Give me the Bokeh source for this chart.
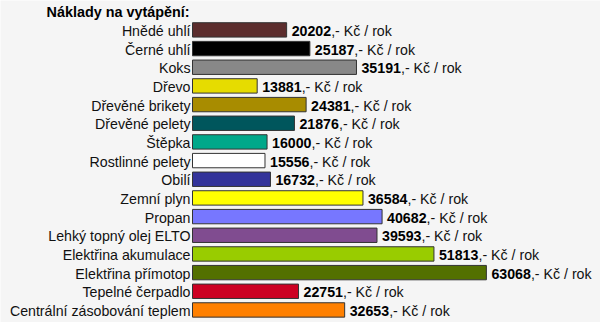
from bokeh.plotting import figure
from bokeh.models import Range1d, ColumnDataSource
from bokeh.core.properties import value
from bokeh.embed import file_html
from bokeh.resources import INLINE

categories = ["Hnědé uhlí", "Černé uhlí", "Koks", "Dřevo", "Dřevěné brikety",
              "Dřevěné pelety", "Štěpka", "Rostlinné pelety", "Obilí", "Zemní plyn",
              "Propan", "Lehký topný olej ELTO", "Elektřina akumulace",
              "Elektřina přímotop", "Tepelné čerpadlo", "Centrální zásobování teplem"]
costs = [20202, 25187, 35191, 13881, 24381, 21876, 16000, 15556, 16732, 36584,
         40682, 39593, 51813, 63068, 22751, 32653]
colors = ["#5c2d2d", "#000000", "#888888", "#e6dc00", "#a88c00", "#00565c",
          "#00a88a", "#ffffff", "#33339a", "#ffff00", "#7777ff", "#804c90",
          "#99cc00", "#537000", "#cc0022", "#ff8000"]
title_text = "Náklady na vytápění:"
suffix = ",- Kč / rok"

W, H = 600, 322
upp = 214.6          # data units per pixel
x0_px = 192          # pixel where zero sits
pitch = 18.67
first_px = 29.4

idx = list(range(len(categories)))
src = ColumnDataSource(dict(
    y=idx, cat=categories, v=costs, col=colors,
    num=[str(c) for c in costs], suf=[suffix] * len(costs)))

p = figure(width=W, height=H, output_backend="svg", toolbar_location=None,
           x_range=Range1d(-x0_px * upp, (W - x0_px) * upp),
           y_range=Range1d((H - first_px) / pitch, -first_px / pitch),
           min_border=0, border_fill_color="#f5f5f5", background_fill_color="#f5f5f5",
           outline_line_color=None)
p.axis.visible = False
p.grid.visible = False

p.hbar(y="y", left=0, right="v", height=0.77, fill_color="col",
       line_color="#333333", line_width=1, source=src)

font = value("Liberation Sans")
p.text(x=0, y="y", text="cat", text_align="right", text_baseline="middle",
       x_offset=-2, y_offset=1, text_font=font, text_font_size="14.2px",
       text_color="#111111", source=src)
p.text(x="v", y="y", text="num", text_align="left", text_baseline="middle",
       x_offset=5, y_offset=1, text_font=font, text_font_size="14.2px",
       text_font_style="bold", text_color="#000000", source=src)
p.text(x="v", y="y", text="suf", text_align="left", text_baseline="middle",
       x_offset=44.5, y_offset=1, text_font=font, text_font_size="14.2px",
       text_color="#111111", source=src)

# title, placed relative to the first row
p.text(x=[0], y=[0], text=[title_text], text_align="left", text_baseline="middle",
       x_offset=-146, y_offset=-17.5, text_font=font,
       text_font_size="14.4px", text_font_style="bold", text_color="#000000")

open("out.html", "w").write(file_html(p, INLINE))
